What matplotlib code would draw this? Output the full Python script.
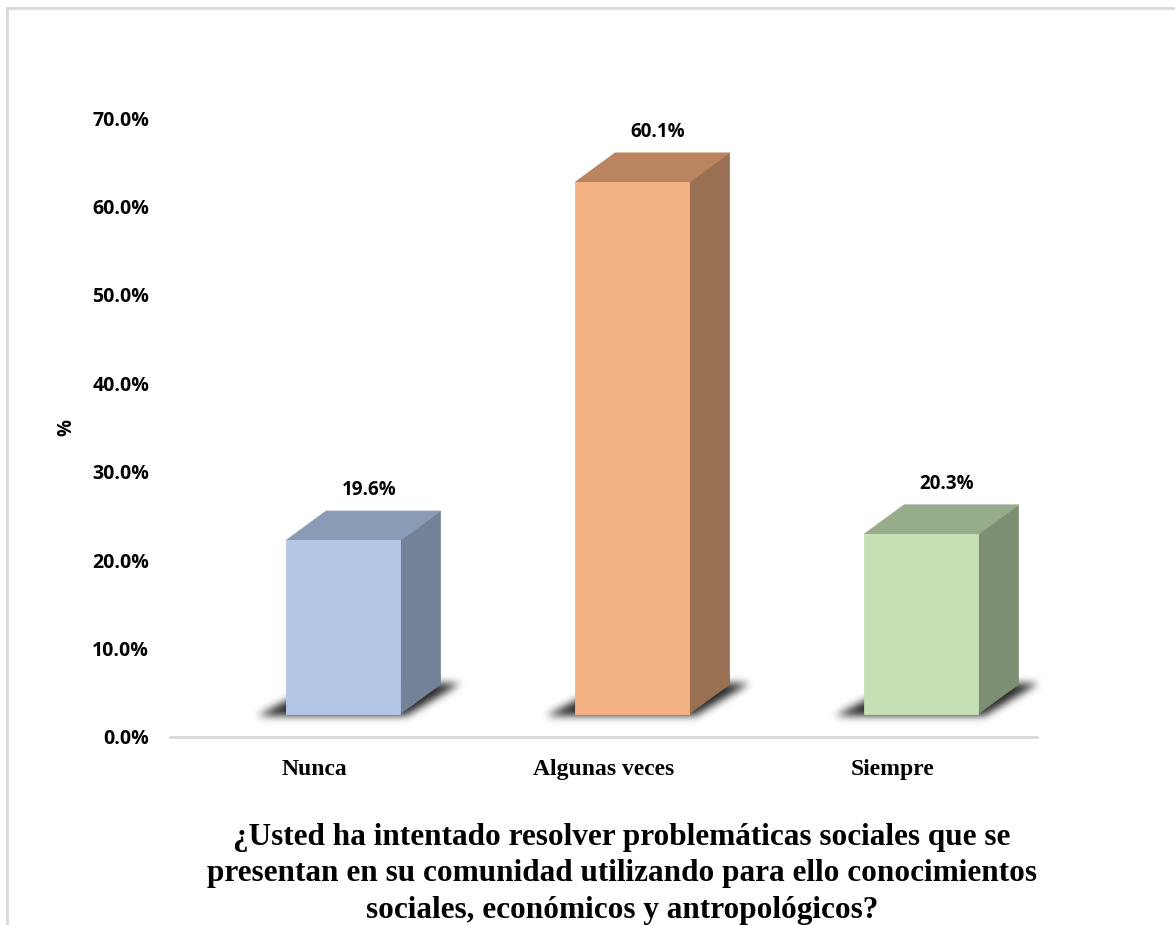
import numpy as np
import matplotlib.pyplot as plt
from matplotlib.patches import Polygon
from matplotlib.lines import Line2D
from matplotlib.path import Path

# data
categories = ["Nunca", "Algunas veces", "Siempre"]
values = [19.6, 60.1, 20.3]
labels = ["19.6%", "60.1%", "20.3%"]
yticks = [0, 10, 20, 30, 40, 50, 60, 70]

# colours for front / top / side of each 3d bar
front_cols = ["#B4C7E7", "#F4B183", "#C5E0B4"]
top_cols = ["#8A9BB5", "#B9845F", "#97AC8B"]
side_cols = ["#738296", "#9A7052", "#7E8E73"]

fig = plt.figure(figsize=(11.75, 9.25), dpi=100)
W, H = 1175, 925
ax = fig.add_axes([170 / W, (H - 737) / H, (1037 - 170) / W, (737 - 118) / H])
ax.set_xlim(0, 3)
ax.set_ylim(0, 70)

# pixels per data unit, used for the blurred floor shadow
px_x = (1037 - 170) / 3.0
px_y = (737 - 118) / 70.0


def gauss_blur(a, sigma):
    r = int(3 * sigma)
    k = np.exp(-0.5 * (np.arange(-r, r + 1) / sigma) ** 2)
    k /= k.sum()
    a = np.apply_along_axis(lambda m: np.convolve(m, k, mode="same"), 0, a)
    a = np.apply_along_axis(lambda m: np.convolve(m, k, mode="same"), 1, a)
    return a


def shadow(ax, pts, sigma=4.0, strength=0.85):
    pts = np.array(pts)
    pad_x, pad_y = 18 / px_x, 18 / px_y
    xa, xb = pts[:, 0].min() - pad_x, pts[:, 0].max() + pad_x
    ya, yb = pts[:, 1].min() - pad_y, pts[:, 1].max() + pad_y
    nx = int((xb - xa) * px_x)
    ny = int((yb - ya) * px_y)
    gx, gy = np.meshgrid(np.linspace(xa, xb, nx), np.linspace(ya, yb, ny))
    inside = Path(pts).contains_points(np.c_[gx.ravel(), gy.ravel()]).reshape(ny, nx)
    alpha = gauss_blur(inside.astype(float), sigma) * strength
    img = np.zeros((ny, nx, 4))
    img[..., 3] = alpha
    ax.imshow(img, extent=(xa, xb, ya, yb), origin="lower", aspect="auto",
              interpolation="bilinear", zorder=1, clip_on=False)


# 3d look: floor offset, bar width, depth
base = 2.65
bw = 0.395
off = 0.10
dx = 0.138
dy = 3.3

for i, v in enumerate(values):
    x0 = i + 0.5 + off - bw / 2
    x1 = x0 + bw
    top = base + v
    shadow(ax, [(x0 - 0.10, base - 0.3), (x1 + 0.02, base - 0.3),
                (x1 + dx + 0.07, base + dy + 0.1), (x0 + dx - 0.02, base + dy + 0.1)])
    ax.add_patch(Polygon([(x1, base), (x1 + dx, base + dy), (x1 + dx, top + dy), (x1, top)],
                         closed=True, facecolor=side_cols[i], edgecolor=side_cols[i],
                         lw=0.6, zorder=3))
    ax.add_patch(Polygon([(x0, top), (x0 + dx, top + dy), (x1 + dx, top + dy), (x1, top)],
                         closed=True, facecolor=top_cols[i], edgecolor=top_cols[i],
                         lw=0.6, zorder=3))
    ax.add_patch(Polygon([(x0, base), (x1, base), (x1, top), (x0, top)],
                         closed=True, facecolor=front_cols[i], edgecolor=front_cols[i],
                         lw=0.6, zorder=4))
    ax.text(i + 0.5 + off + 0.088, top + dy + 2.4, labels[i], ha="center", va="center",
            fontsize=13.5, fontweight="bold", family="Open Sans", color="black")

ax.set_xlim(0, 3)
ax.set_ylim(0, 70)

for s in ["top", "right", "left"]:
    ax.spines[s].set_visible(False)
ax.spines["bottom"].set_color("#d9d9d9")
ax.spines["bottom"].set_linewidth(2)

ax.set_yticks(yticks)
ax.set_yticklabels([f"{t:.1f}%" for t in yticks], fontsize=14, fontweight="bold",
                   family="Open Sans")
ax.tick_params(axis="y", length=0, pad=15)
ax.set_xticks([0.5, 1.5, 2.5])
ax.set_xticklabels(categories, fontsize=17, fontweight="bold", family="Liberation Serif")
ax.tick_params(axis="x", length=0, pad=16)

fig.text(66 / W, 1 - 428 / H, "%", rotation=90, ha="center", va="center",
         fontsize=13.5, fontweight="bold", family="Open Sans")

fig.text(622 / W, 1 - 874 / H,
         "¿Usted ha intentado resolver problemáticas sociales que se\n"
         "presentan en su comunidad utilizando para ello conocimientos\n"
         "sociales, económicos y antropológicos?",
         ha="center", va="center", fontsize=22.5, fontweight="bold",
         family="Liberation Serif", linespacing=1.32)

# chart frame (top and left edges visible)
fig.add_artist(Line2D([7 / W, 1], [1 - 8 / H, 1 - 8 / H], color="#d9d9d9", lw=2))
fig.add_artist(Line2D([7 / W, 7 / W], [0, 1 - 8 / H], color="#d9d9d9", lw=2))

fig.savefig("out.png", dpi=100)
